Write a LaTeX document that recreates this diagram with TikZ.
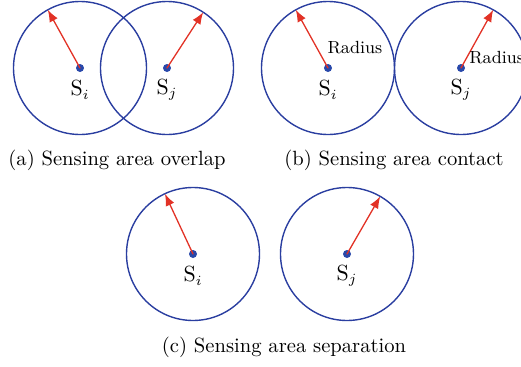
\documentclass[tikz,border=0pt]{standalone}
\usepackage{tikz}
\usetikzlibrary{arrows.meta}
\definecolor{areablue}{RGB}{42,62,160}
\definecolor{dotblue}{RGB}{40,72,170}
\definecolor{arrowred}{RGB}{226,50,38}

\begin{document}
\begin{tikzpicture}[x=0.5pt,y=0.5pt,>=Latex,line cap=round,line join=round,
    sensarea/.style={draw=areablue,line width=0.7pt,circle,minimum size=66.5pt,inner sep=0pt,outer sep=0pt},
    sensor/.style={fill=dotblue,circle,inner sep=0pt,minimum size=4pt},
    rangearrow/.style={-{Latex[length=6pt,width=4.6pt]},draw=arrowred,line width=0.65pt},
    lab/.style={font=\fontsize{10.5}{12}\selectfont,inner sep=0pt},
    rlab/.style={font=\fontsize{8.8}{10}\selectfont,inner sep=0pt},
    caption/.style={font=\fontsize{10.3}{12}\selectfont,inner sep=0pt}]
  \useasboundingbox (0,0) rectangle (521,366);

  % (a) overlap
  \node[sensarea] (ai) at (80,298) {};
  \node[sensarea] (aj) at (167,298) {};
  \node[sensor] (ai dot) at (ai.center) {};
  \node[sensor] (aj dot) at (aj.center) {};
  \draw[rangearrow] (ai dot.center) -- (ai.119);
  \draw[rangearrow] (aj dot.center) -- (aj.57);
  \node[lab] (ai s) at (80,276) {$\mathrm{S}_i$};
  \node[lab] (aj s) at (167,276) {$\mathrm{S}_j$};
  \node[caption] (cap a) at (117,206) {(a) Sensing area overlap};

  % (b) contact
  \node[sensarea] (bi) at (328,298) {};
  \node[sensarea] (bj) at (461,298) {};
  \node[sensor] (bi dot) at (bi.center) {};
  \node[sensor] (bj dot) at (bj.center) {};
  \draw[rangearrow] (bi dot.center) -- (bi.119);
  \draw[rangearrow] (bj dot.center) -- (bj.61);
  \node[lab] (bi s) at (328,276) {$\mathrm{S}_i$};
  \node[lab] (bj s) at (461,276) {$\mathrm{S}_j$};
  \node[rlab] (bi r) at (355,318) {Radius};
  \node[rlab,anchor=west] (bj r) at (469,308) {Radius};
  \node[caption] (cap b) at (394,206) {(b) Sensing area contact};

  % (c) separation
  \node[sensarea] (ci) at (193,112) {};
  \node[sensarea] (cj) at (347,112) {};
  \node[sensor] (ci dot) at (ci.center) {};
  \node[sensor] (cj dot) at (cj.center) {};
  \draw[rangearrow] (ci dot.center) -- (ci.115);
  \draw[rangearrow] (cj dot.center) -- (cj.60);
  \node[lab] (ci s) at (193,90) {$\mathrm{S}_i$};
  \node[lab] (cj s) at (347,90) {$\mathrm{S}_j$};
  \node[caption] (cap c) at (284,19) {(c) Sensing area separation};
\end{tikzpicture}
\end{document}
